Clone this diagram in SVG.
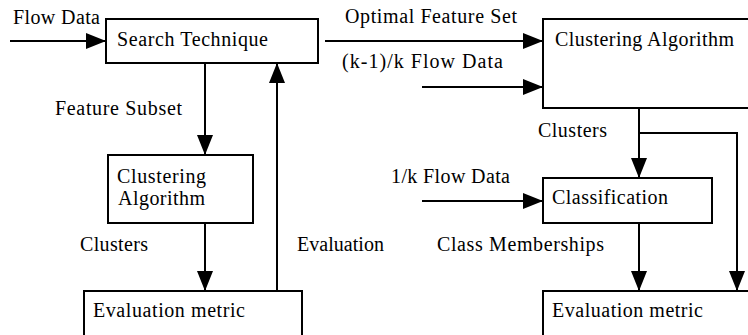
<svg xmlns="http://www.w3.org/2000/svg" width="748" height="335" viewBox="0 0 748 335">
<style>
.box{fill:#fff;stroke:#000;stroke-width:2}
.con{fill:none;stroke:#000;stroke-width:2;marker-end:url(#ah)}
text{font-family:"Liberation Serif","Times New Roman",serif;font-size:20px;fill:#000}
</style>
<defs>
<marker id="ah" markerUnits="userSpaceOnUse" markerWidth="20" markerHeight="16" refX="20" refY="8" orient="auto">
<path d="M0,0 L20,8 L0,16 Z" fill="#000"/>
</marker>
</defs>
<rect width="748" height="335" fill="#fff"/>
<g id="search">
<rect class="box" x="106" y="19" width="212" height="44"/>
<text x="117" y="46" textLength="151">Search Technique</text>
</g>
<g id="clust-small">
<rect class="box" x="108" y="155" width="145" height="68"/>
<text x="117" y="183" textLength="89">Clustering</text>
<text x="118" y="205" textLength="87">Algorithm</text>
</g>
<g id="eval-left">
<rect class="box" x="84" y="291" width="218" height="60"/>
<text x="93" y="317" textLength="152">Evaluation metric</text>
</g>
<g id="clust-big">
<rect class="box" x="543" y="19" width="215" height="89"/>
<text x="555" y="46" textLength="179">Clustering Algorithm</text>
</g>
<g id="classification">
<rect class="box" x="543" y="178" width="169" height="45"/>
<text x="552" y="204" textLength="116">Classification</text>
</g>
<g id="eval-right">
<rect class="box" x="543" y="291" width="215" height="60"/>
<text x="552" y="317" textLength="151">Evaluation metric</text>
</g>
<g id="connectors">
<line class="con" x1="10" y1="41" x2="106" y2="41"/>
<line class="con" x1="325" y1="41" x2="543" y2="41"/>
<line class="con" x1="422" y1="87" x2="543" y2="87"/>
<line class="con" x1="205" y1="63" x2="205" y2="155"/>
<line class="con" x1="205" y1="223" x2="205" y2="291"/>
<line class="con" x1="277" y1="291" x2="277" y2="63"/>
<line class="con" x1="639" y1="108" x2="639" y2="178"/>
<polyline class="con" points="639,133 737,133 737,291"/>
<line class="con" x1="422" y1="201" x2="543" y2="201"/>
<line class="con" x1="639" y1="223" x2="639" y2="291"/>
</g>
<g id="labels">
<text x="13" y="24" textLength="87">Flow Data</text>
<text x="345" y="23" textLength="172">Optimal Feature Set</text>
<text x="342" y="68" textLength="161">(k-1)/k Flow Data</text>
<text x="55" y="115" textLength="127">Feature Subset</text>
<text x="538" y="137" textLength="69">Clusters</text>
<text x="391" y="183" textLength="119">1/k Flow Data</text>
<text x="80" y="251" textLength="68">Clusters</text>
<text x="297" y="251" textLength="87">Evaluation</text>
<text x="437" y="251" textLength="167">Class Memberships</text>
</g>
</svg>
